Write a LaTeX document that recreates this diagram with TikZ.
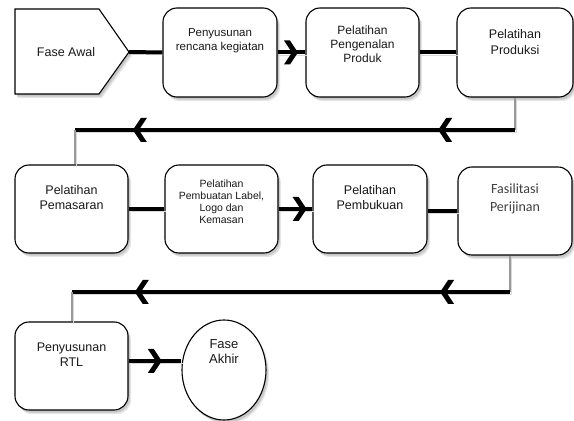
\documentclass[tikz,border=0pt]{standalone}
\usepackage{fontspec}
\setmainfont{Liberation Sans}
\newfontfamily\carlitofont{Carlito}
\usetikzlibrary{decorations.markings,shapes.geometric}
\tikzset{
  shd/.style={preaction={fill=black!10, transform canvas={shift={(3pt,-4pt)}}},
              preaction={fill=black!22, transform canvas={shift={(1.8pt,-2.6pt)}}}},
  lshd/.style={preaction={draw=black!15, transform canvas={shift={(1.5pt,-2.5pt)}}}},
  box/.style={draw, line width=1.1pt, rounded corners=14pt, fill=white, shd, minimum height=88pt, inner sep=0pt},
  txt/.style={font=\fontsize{12.5}{15}\selectfont, align=center, text=black!90},
  conn/.style={draw, line width=4pt, lshd},
  back/.style={draw=black!40, line width=2.6pt, lshd},
  chev/.style={postaction={decorate, decoration={markings, mark=at position #1 with {\fill (-12,12) -- (-6,12) -- (2,0) -- (-6,-12) -- (-12,-12) -- (-4,0) -- cycle;}}}},
}
\begin{document}
\begin{tikzpicture}[x=1pt,y=1pt]
\useasboundingbox (0,0) rectangle (574,421);
% Fase Awal
\draw[line width=1.1pt, fill=white, shd] (15,412) -- (99,412) -- (129,369) -- (99,327) -- (15,327) -- cycle;
\coordinate (fatip) at (129,369);
\node[txt] (t1) at (66,369) {Fase Awal};
% row 1
\node[box, minimum width=114pt, minimum height=89pt] (b2) at (220,368.5) {};
\node[txt, font=\fontsize{11.5}{14}\selectfont] (t2) at ([yshift=12pt]b2.center) {Penyusunan\\rencana kegiatan};
\node[box, minimum width=113pt, minimum height=89pt] (b3) at (362.5,368.5) {};
\node[txt, font=\fontsize{12}{14}\selectfont] (t3) at ([yshift=8.5pt]b3.center) {Pelatihan\\Pengenalan\\Produk};
\node[box, minimum width=116pt, minimum height=89pt] (b4) at (515,368.5) {};
\node[txt, font=\fontsize{12.5}{16}\selectfont] (t4) at ([yshift=10pt]b4.center) {Pelatihan\\Produksi};
% row 2
\node[box, minimum width=113pt] (b5) at (71.5,212) {};
\node[txt] (t5) at ([yshift=11.5pt]b5.center) {Pelatihan\\Pemasaran};
\node[box, minimum width=113pt] (b6) at (221.5,212) {};
\node[txt, font=\fontsize{10.5}{12}\selectfont] (t6) at ([yshift=7pt]b6.center) {Pelatihan\\Pembuatan Label,\\Logo dan\\Kemasan};
\node[box, minimum width=114pt] (b7) at (370,212) {};
\node[txt] (t7) at ([yshift=11.5pt]b7.center) {Pelatihan\\Pembukuan};
\node[box, minimum width=114pt] (b8) at (515,210) {};
\node[txt, font=\carlitofont\fontsize{14}{18}\selectfont, text=black!75] (t8) at ([yshift=12pt]b8.center) {Fasilitasi\\Perijinan};
% row 3
\node[box, minimum width=113pt] (b9) at (71.5,55) {};
\node[txt] (t9) at ([yshift=11.5pt]b9.center) {Penyusunan\\RTL};
\node[ellipse, draw, line width=1.1pt, fill=white, shd, minimum width=84pt, minimum height=100pt, inner sep=0pt] (fa) at (224,51) {};
\node[txt, font=\fontsize{13}{15}\selectfont] (t10) at ([yshift=18.5pt]fa.center) {Fase\\Akhir};
% return coordinates
\coordinate (c1r) at (515,291);
\coordinate (c1l) at (75,291);
\coordinate (c2r) at (510,129);
\coordinate (c2l) at (72,129);
\coordinate (r3) at ([yshift=5pt]b9.east);
% connectors row 1
\draw[conn] (fatip) -- (b2.west);
\draw[conn, chev=0.66] (b2.east) -- (b3.west);
\draw[conn] (b3.east) -- (b4.west);
% return 1
\draw[back] (b4.south) -- (c1r);
\draw[conn, chev=0.17, chev=0.864] (c1r) -- (c1l);
\draw[back] (c1l) -- (b5.north -| c1l);
% row 2
\draw[conn] (b5.east) -- (b6.west);
\draw[conn, chev=0.77] (b6.east) -- (b7.west);
\draw[conn] (b7.east |- b8.west) -- (b8.west);
% return 2
\draw[back] (b8.south -| c2r) -- (c2r);
\draw[conn, chev=0.155, chev=0.852] (c2r) -- (c2l);
\draw[back] (c2l) -- (b9.north -| c2l);
% row 3
\draw[conn, chev=0.59] (r3) -- (r3 -| fa.west);
\end{tikzpicture}
\end{document}
